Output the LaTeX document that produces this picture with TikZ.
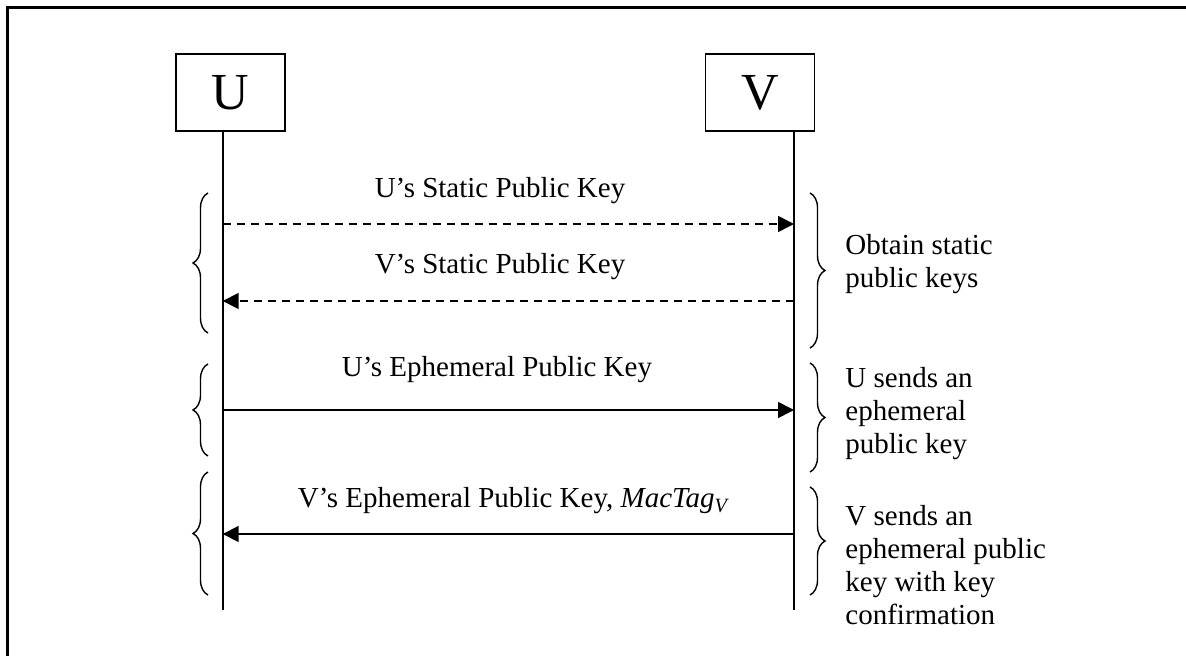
\documentclass[tikz,border=0pt]{standalone}
\usepackage{fontspec}
\setmainfont{Liberation Serif}
\usetikzlibrary{arrows.meta,decorations.pathreplacing}
\begin{document}
\begin{tikzpicture}[x=0.5pt,y=-0.5pt,
  every node/.style={font=\fontsize{14.5}{16.5}\selectfont},
  party/.style={draw,line width=0.8pt,minimum width=54.5pt,minimum height=38.5pt,inner sep=0pt,font=\fontsize{26}{30}\selectfont},
  life/.style={line width=0.9pt},
  msg/.style={line width=0.8pt,-{Triangle[length=8pt,width=8pt]}},
  dashmsg/.style={msg,dash pattern=on 4pt off 3pt},
  lbl/.style={anchor=base,inner sep=0pt},
  note/.style={anchor=north west,align=left,inner sep=0pt},
  brc/.style={decorate,decoration={brace,amplitude=7.5pt},line width=0.7pt}]
\useasboundingbox (0,0) rectangle (1186,656);
\draw[line width=1.5pt] (7,656) -- (7,8) -- (1186,8);
% parties
\node[party] (U) at (230.5,92.5) {U};
\node[party] (V) at (760,92.5) {V};
\coordinate (ub) at (222.7,610);
\coordinate (vb) at (794,610);
\draw[life] (U.south -| ub) -- (ub);
\draw[life] (V.south -| vb) -- (vb);
% message points
\coordinate (u1) at (222.7,224); \coordinate (v1) at (794,224);
\coordinate (u2) at (222.7,301); \coordinate (v2) at (794,301);
\coordinate (u3) at (222.7,410); \coordinate (v3) at (794,410);
\coordinate (u4) at (222.7,534); \coordinate (v4) at (794,534);
\draw[dashmsg] (u1) -- (v1);
\draw[dashmsg] (v2) -- (u2);
\draw[msg] (u3) -- (v3);
\draw[msg] (v4) -- (u4);
\node[lbl] (l1) at (500,198) {U’s Static Public Key};
\node[lbl] (l2) at (500,274) {V’s Static Public Key};
\node[lbl] (l3) at (497,377) {U’s Ephemeral Public Key};
\node[lbl] (l4) at (514,508) {V’s Ephemeral Public Key, \textit{MacTag}\textsubscript{\textit{V}}};
% left braces
\draw[brc] (208,333) -- (208,193);
\draw[brc] (208,456) -- (208,364);
\draw[brc] (208,595) -- (208,472);
% right braces
\draw[brc] (810,193) -- (810,348);
\draw[brc] (810,363) -- (810,472);
\draw[brc] (810,487) -- (810,595);
% notes
\node[note] (n1) at (845,234) {Obtain static\\public keys};
\node[note] (n2) at (845,367) {U sends an\\ephemeral\\public key};
\node[note] (n3) at (845,505) {V sends an\\ephemeral public\\key with key\\confirmation};
\end{tikzpicture}
\end{document}
